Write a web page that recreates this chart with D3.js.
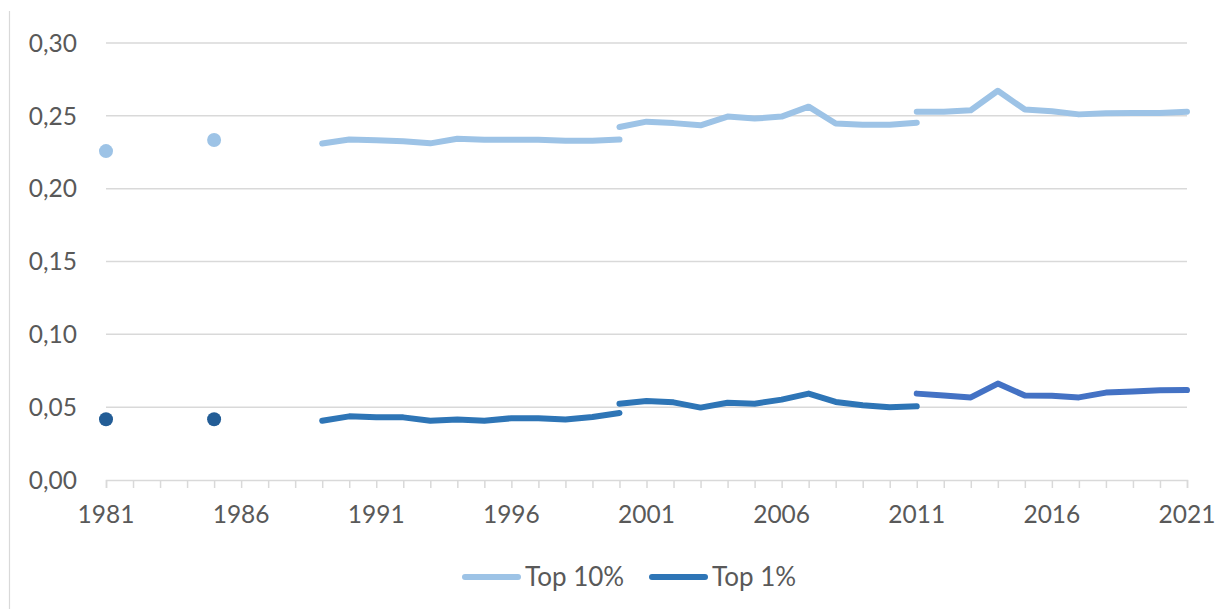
<!DOCTYPE html>
<html>
<head>
<meta charset="utf-8">
<script src="https://cdn.jsdelivr.net/npm/d3@7"></script>
<style>
  html, body { margin: 0; padding: 0; background: #fff; }
  svg { display: block; }
  text { font-family: Lato, "Open Sans", sans-serif; fill: #595959; }
</style>
</head>
<body>
<svg id="chart" width="1227" height="609"></svg>
<script>
// ---- Data ----
const seriesNames = ["Top 10%", "Top 1%"];
const yTicks = [0, 0.05, 0.10, 0.15, 0.20, 0.25, 0.30];
const xLabelYears = [1981, 1986, 1991, 1996, 2001, 2006, 2011, 2016, 2021];

// Isolated observations
const dotYears = [1981, 1985];
const top10Dots = [0.2258, 0.2334];
const top1Dots = [0.0417, 0.0417];

// Segment 1: 1989–2000
const seg1Years = [1989, 1990, 1991, 1992, 1993, 1994, 1995, 1996, 1997, 1998, 1999, 2000];
const top10Seg1 = [0.2310, 0.2338, 0.2332, 0.2325, 0.2311, 0.2343, 0.2336, 0.2336, 0.2336, 0.2329, 0.2329, 0.2337];
const top1Seg1  = [0.0407, 0.0437, 0.0430, 0.0430, 0.0407, 0.0415, 0.0407, 0.0424, 0.0424, 0.0415, 0.0432, 0.0460];

// Segment 2: 2000–2011
const seg2Years = [2000, 2001, 2002, 2003, 2004, 2005, 2006, 2007, 2008, 2009, 2010, 2011];
const top10Seg2 = [0.2423, 0.2460, 0.2450, 0.2435, 0.2495, 0.2481, 0.2495, 0.2563, 0.2447, 0.2438, 0.2438, 0.2453];
const top1Seg2  = [0.0524, 0.0542, 0.0533, 0.0497, 0.0530, 0.0524, 0.0552, 0.0593, 0.0536, 0.0513, 0.0499, 0.0506];

// Segment 3: 2011–2021
const seg3Years = [2011, 2012, 2013, 2014, 2015, 2016, 2017, 2018, 2019, 2020, 2021];
const top10Seg3 = [0.2528, 0.2528, 0.2538, 0.2672, 0.2543, 0.2531, 0.2510, 0.2518, 0.2520, 0.2520, 0.2528];
const top1Seg3  = [0.0593, 0.0580, 0.0567, 0.0662, 0.0580, 0.0578, 0.0567, 0.0600, 0.0608, 0.0616, 0.0617];

// ---- Chart ----
const svg = d3.select("#chart");
const x = d3.scaleLinear().domain([1981, 2021]).range([106, 1187]);
const y = d3.scaleLinear().domain([0, 0.30]).range([480, 43]);
const fmt = v => d3.format(".2f")(v).replace(".", ",");

const colLight = "#9dc3e6", colDark = "#2e75b6", colDot = "#235d96", colSeg3 = "#4472c4";
const grid = "#d9d9d9";
const axisFont = 24.5, legendFont = 26;

// left frame line
svg.append("line").attr("x1", 9.5).attr("x2", 9.5).attr("y1", 11).attr("y2", 609)
  .attr("stroke", grid).attr("stroke-width", 1.2);

// gridlines
svg.append("g").selectAll("line").data(yTicks.filter(d => d > 0)).join("line")
  .attr("x1", x(1981)).attr("x2", x(2021))
  .attr("y1", d => y(d)).attr("y2", d => y(d))
  .attr("stroke", grid).attr("stroke-width", 1.5);

// y labels
svg.append("g").selectAll("text").data(yTicks).join("text")
  .attr("x", 77).attr("y", d => y(d)).attr("dy", "0.36em")
  .attr("text-anchor", "end").attr("font-size", axisFont)
  .text(fmt);

// x axis
const xAxis = d3.axisBottom(x).tickValues(d3.range(1981, 2022)).tickSize(8).tickFormat("");
const gx = svg.append("g").attr("transform", `translate(0,${y(0)})`).call(xAxis);
gx.select(".domain").attr("stroke", grid).attr("stroke-width", 1.5);
gx.selectAll(".tick line").attr("stroke", grid).attr("stroke-width", 1.5);

svg.append("g").selectAll("text").data(xLabelYears).join("text")
  .attr("x", d => x(d)).attr("y", 514).attr("dy", "0.36em")
  .attr("text-anchor", "middle").attr("font-size", axisFont)
  .text(d => d);

// lines
const line = d3.line().x(d => x(d[0])).y(d => y(d[1]));
function drawSeg(years, vals, color) {
  svg.append("path").datum(years.map((yr, i) => [yr, vals[i]]))
    .attr("d", line).attr("fill", "none").attr("stroke", color)
    .attr("stroke-width", 6).attr("stroke-linecap", "round").attr("stroke-linejoin", "round");
}
drawSeg(seg1Years, top10Seg1, colLight);
drawSeg(seg2Years, top10Seg2, colLight);
drawSeg(seg3Years, top10Seg3, colLight);
drawSeg(seg1Years, top1Seg1, colDark);
drawSeg(seg2Years, top1Seg2, colDark);
drawSeg(seg3Years, top1Seg3, colSeg3);

// dots
svg.append("g").selectAll("circle").data(dotYears.map((yr, i) => [yr, top10Dots[i]])).join("circle")
  .attr("cx", d => x(d[0])).attr("cy", d => y(d[1])).attr("r", 7).attr("fill", colLight);
svg.append("g").selectAll("circle").data(dotYears.map((yr, i) => [yr, top1Dots[i]])).join("circle")
  .attr("cx", d => x(d[0])).attr("cy", d => y(d[1])).attr("r", 7).attr("fill", colDot);

// legend
const legend = [
  { name: seriesNames[0], color: colLight, x0: 465 },
  { name: seriesNames[1], color: colDark, x0: 652 }
];
const lg = svg.append("g").selectAll("g").data(legend).join("g");
lg.append("line").attr("x1", d => d.x0).attr("x2", d => d.x0 + 53)
  .attr("y1", 577).attr("y2", 577).attr("stroke", d => d.color)
  .attr("stroke-width", 6).attr("stroke-linecap", "round");
lg.append("text").attr("x", d => d.x0 + 60).attr("y", 577).attr("dy", "0.36em")
  .attr("font-size", legendFont).text(d => d.name);
</script>
</body>
</html>
